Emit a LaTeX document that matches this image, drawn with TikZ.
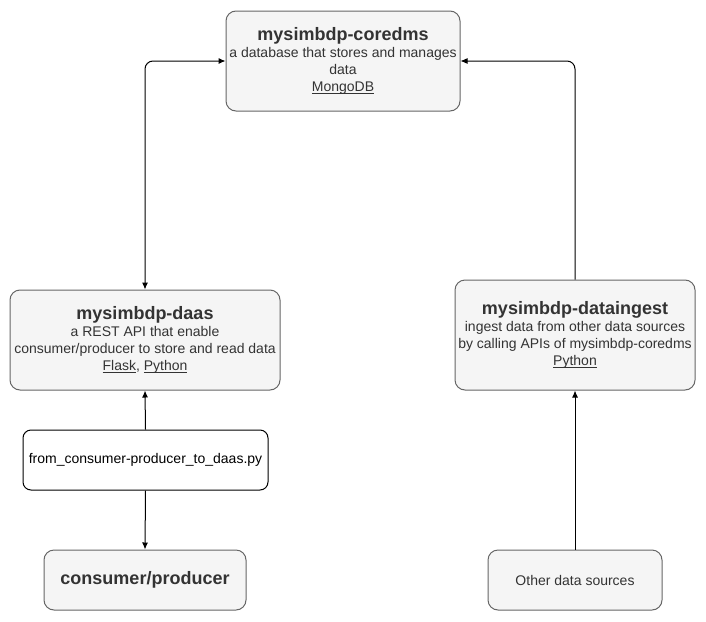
\documentclass[tikz,border=0pt]{standalone}
\usepackage{fontspec}
\setmainfont{Liberation Sans}
\usetikzlibrary{arrows.meta}
\definecolor{boxfill}{HTML}{F5F5F5}
\definecolor{boxline}{HTML}{666666}
\definecolor{boxtext}{HTML}{333333}
\newcommand\ulined[1]{\setbox0\hbox{#1}\rlap{\rule[-2pt]{\wd0}{0.8pt}}\box0}
\begin{document}
\begin{tikzpicture}
    [
    x=1pt, y=-1pt,
    block/.style={rectangle,rounded corners=10pt,draw=boxline,fill=boxfill,text=boxtext,line width=1pt,align=center,inner sep=0pt,font=\fontsize{14}{17}\selectfont},
    script/.style={rectangle,rounded corners=8pt,draw=black,fill=white,line width=1pt,align=center,inner sep=0pt,font=\fontsize{14}{17}\selectfont},
    title/.style={font=\bfseries\fontsize{18}{20}\selectfont},
    link/.style={line width=1pt,-{Latex[length=7pt,width=6pt]}}
    ]
    \useasboundingbox (0,0) rectangle (706,621);
    \node (coredms) at (343,61) [block,minimum width=234pt,minimum height=100pt] {{\bfseries\fontsize{18}{20}\selectfont mysimbdp-coredms}\\a database that stores and manages\\data\\\ulined{MongoDB}};
    \node (daas) at (145,340) [block,minimum width=270pt,minimum height=100pt] {{\bfseries\fontsize{18}{20}\selectfont mysimbdp-daas}\\a REST API that enable\\consumer/producer to store and read data\\\ulined{Flask}, \ulined{Python}};
    \node (ingest) at (575,335) [block,minimum width=240pt,minimum height=110pt] {{\bfseries\fontsize{18}{20}\selectfont mysimbdp-dataingest}\\ingest data from other data sources\\by calling APIs of mysimbdp-coredms\\\ulined{Python}};
    \node (script) at (145.5,460) [script,minimum width=245pt,minimum height=60pt] {from\_consumer-producer\_to\_daas.py};
    \node (consumer) at (145,580) [block,title,minimum width=202pt,minimum height=60pt] {consumer/producer};
    \node (other) at (575,580) [block,minimum width=174pt,minimum height=60pt] {Other data sources};
    \draw [link,{Latex[length=7pt,width=6pt]}-{Latex[length=7pt,width=6pt]},rounded corners=8pt] (daas.north) |- (coredms.west);
    \draw [link,rounded corners=8pt] (ingest.north) |- (coredms.east);
    \draw [link] (script.north) to (daas.south);
    \draw [link] (script.south) to (consumer.north);
    \draw [link] (other.north) to (ingest.south);
  \end{tikzpicture}
\end{document}
